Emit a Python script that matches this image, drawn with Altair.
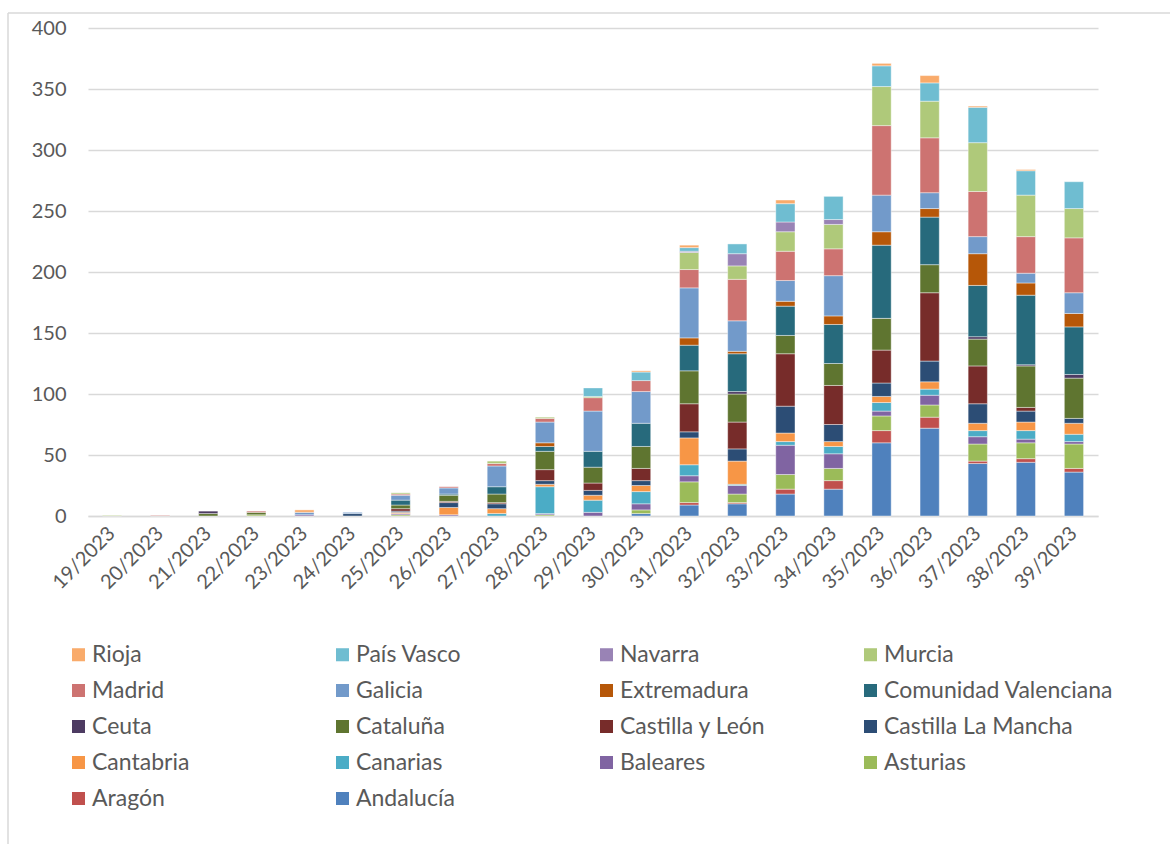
import altair as alt
import pandas as pd

weeks = ["19/2023","20/2023","21/2023","22/2023","23/2023","24/2023","25/2023","26/2023",
         "27/2023","28/2023","29/2023","30/2023","31/2023","32/2023","33/2023","34/2023",
         "35/2023","36/2023","37/2023","38/2023","39/2023"]

# stacking order bottom -> top
regions = ["Andalucía","Aragón","Asturias","Baleares","Canarias","Cantabria",
           "Castilla La Mancha","Castilla y León","Cataluña","Ceuta",
           "Comunidad Valenciana","Extremadura","Galicia","Madrid","Murcia",
           "Navarra","País Vasco","Rioja"]

andalucia   = [0,0,0,0,0,0,0,0,0,0,0,2,9,10,18,22,60,72,43,44,36]
aragon      = [0,0,0,0,0,0,0,0,0,0,0,0,2,1,4,7,10,9,2,3,3]
asturias    = [0,0,0,1,0,0,1,0,0,1,0,3,17,7,12,10,12,10,14,13,20]
baleares    = [0,0,0,0,1,0,1,1,0,1,3,5,5,7,24,12,4,8,6,3,2]
canarias    = [0,0,0,0,0,0,0,0,2,22,10,10,9,1,3,6,7,5,5,7,6]
cantabria   = [0,0,0,0,0,0,1,6,4,2,4,5,22,19,7,4,5,6,6,7,9]
clm         = [0,0,0,0,0,2,1,4,4,3,4,4,5,10,22,14,11,17,16,9,4]
cyl         = [0,0,0,0,0,0,2,1,1,9,6,10,23,22,43,32,27,56,31,3,0]
cataluna    = [0,0,2,2,0,0,3,5,7,15,13,18,27,23,15,18,26,23,22,34,33]
ceuta       = [0,0,2,0,0,0,0,0,0,0,0,0,0,2,0,0,0,0,2,1,3]
valenciana  = [0,0,0,0,0,0,4,1,6,4,13,19,21,31,24,32,60,39,42,57,39]
extremadura = [0,0,0,0,0,0,0,0,0,3,0,0,6,2,4,7,11,7,26,10,11]
galicia     = [0,0,0,0,2,1,4,5,17,17,33,26,41,25,17,33,30,13,14,8,17]
madrid      = [0,0.5,0,1,0,0,1,1,2,3,11,9,15,34,24,22,57,45,37,30,45]
murcia      = [0.5,0,0,0,0,0,1,0,2,1,1,0,14,11,16,20,32,30,40,34,24]
navarra     = [0,0,0,0,0,0,0,0,0,0,0,0,1,10,8,4,0,0,0,0,0]
pais_vasco  = [0,0,0,0,0,0,0,0,0,0,7,7,3,8,15,19,17,15,29,20,22]
rioja       = [0,0,0,0,2,0,0,0,0,0,0,1,2,0,3,0,2,6,1,1,0]

series = [andalucia, aragon, asturias, baleares, canarias, cantabria, clm, cyl,
          cataluna, ceuta, valenciana, extremadura, galicia, madrid, murcia,
          navarra, pais_vasco, rioja]

colors = ["#4F81BD","#C0504D","#9BBB59","#8064A2","#4BACC6","#F79646",
          "#2C4D75","#772C2A","#5F7530","#4D3B62","#276A7C","#B65708",
          "#729ACA","#CD7371","#AFC97A","#9983B5","#6FBDD1","#F9AB6B"]

rows = []
for i, (name, vals) in enumerate(zip(regions, series)):
    for w, v in zip(weeks, vals):
        if v > 0:
            rows.append({"semana": w, "region": name, "valor": v, "idx": i})
df = pd.DataFrame(rows)

FONT = "Lato"
TXT = "#595959"
GRID = "#D9D9D9"

bars = alt.Chart(df).mark_bar(stroke="white", strokeWidth=0.6, strokeOpacity=0.7).encode(
    x=alt.X("semana:N", sort=weeks, title=None,
            scale=alt.Scale(paddingInner=0.6, paddingOuter=0.3),
            axis=alt.Axis(labelAngle=-45, labelFontSize=20, labelColor=TXT, labelFont=FONT,
                          ticks=False, domainColor=GRID, domainWidth=1.3, labelPadding=14,
                          labelAlign="right", labelBaseline="middle")),
    y=alt.Y("valor:Q", stack="zero", title=None,
            scale=alt.Scale(domain=[0, 400], nice=False),
            axis=alt.Axis(values=list(range(0, 401, 50)), labelFontSize=20, labelColor=TXT,
                          labelFont=FONT, ticks=False, domain=False, gridColor=GRID,
                          gridWidth=1.3, labelPadding=22)),
    color=alt.Color("region:N", title=None,
                    scale=alt.Scale(domain=regions[::-1], range=colors[::-1]),
                    legend=alt.Legend(orient="none", legendX=-21, legendY=615, columns=4,
                                      direction="horizontal",
                                      gridAlign="all", symbolType="square", symbolSize=170,
                                      symbolStrokeWidth=0, labelFontSize=23, labelColor=TXT,
                                      labelFont=FONT, labelLimit=400, rowPadding=12,
                                      columnPadding=9, labelOffset=2, symbolOffset=0)),
    order=alt.Order("idx:Q", sort="ascending"),
)

frame = alt.Chart(alt.Data(values=[{"k": 1}])).mark_rule(color=GRID, strokeWidth=1.5).encode(
    x=alt.value(-80), y=alt.value(-15), y2=alt.value(820)
)
frame_top = alt.Chart(alt.Data(values=[{"k": 1}])).mark_rule(color=GRID, strokeWidth=1.5).encode(
    x=alt.value(-80), x2=alt.value(1090), y=alt.value(-15)
)

chart = alt.layer(frame, frame_top, bars).properties(
    width=1010, height=488,
    autosize=alt.AutoSizeParams(type="none"),
    padding={"left": 88, "top": 28, "right": 72, "bottom": 328},
    background="white",
).configure_view(stroke=None)

chart.save("out.html", embed_options={"renderer": "svg", "actions": False})
